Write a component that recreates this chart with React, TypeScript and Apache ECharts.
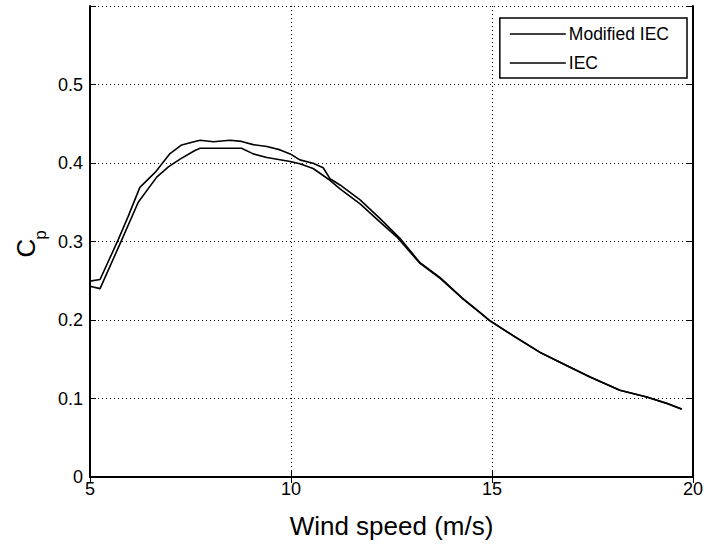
import React, { useEffect, useRef } from "react";
import * as echarts from "echarts";

const seriesNames = ["Modified IEC", "IEC"];

const modifiedX = [5, 5.25, 5.7, 5.95, 6.24, 6.62, 6.99, 7.28, 7.61, 7.74, 8.07, 8.48, 8.77, 9.06, 9.4, 9.73, 9.98, 10.22, 10.55, 10.8, 10.97, 11.22, 11.72, 12.21, 12.71, 13.21, 13.71, 14.25, 14.7, 14.95, 15.53, 16.19, 16.86, 17.44, 18.18, 18.85, 19.35, 19.72];
const modifiedY = [0.2495, 0.2516, 0.302, 0.332, 0.369, 0.388, 0.412, 0.423, 0.4275, 0.429, 0.427, 0.429, 0.4275, 0.4234, 0.421, 0.4167, 0.4116, 0.404, 0.3997, 0.394, 0.38, 0.372, 0.353, 0.3295, 0.304, 0.273, 0.254, 0.2285, 0.2096, 0.199, 0.18, 0.159, 0.142, 0.1275, 0.1106, 0.102, 0.0938, 0.0866];

const iecX = [5, 5.25, 5.79, 6.2, 6.66, 6.95, 7.24, 7.61, 7.74, 8.77, 9.06, 9.4, 9.98, 10.22, 10.55, 10.97, 11.22, 11.72, 12.21, 12.63, 13.21, 13.71, 14.25, 14.7, 14.95, 15.53, 16.19, 16.86, 17.44, 18.18, 18.85, 19.35, 19.72];
const iecY = [0.243, 0.24, 0.302, 0.35, 0.382, 0.395, 0.405, 0.416, 0.4187, 0.4187, 0.4116, 0.407, 0.402, 0.399, 0.393, 0.378, 0.367, 0.348, 0.325, 0.306, 0.272, 0.253, 0.228, 0.2094, 0.1988, 0.1798, 0.1588, 0.1418, 0.1273, 0.1104, 0.1018, 0.0936, 0.0864];

const xTicks = [5, 10, 15, 20];
const yMax = 0.6;

const FONT = "Arial, 'Liberation Sans', Helvetica, sans-serif";

export default function App() {
  const ref = useRef<HTMLDivElement>(null);
  useEffect(() => {
    if (!ref.current) return;
    const chart = echarts.init(ref.current, null, { renderer: "svg" });
    const pairs = (xs: number[], ys: number[]) => xs.map((x, i) => [x, ys[i]]);
    const gridLine = { show: true, lineStyle: { color: "#000", type: [1, 3] as any, width: 1 } };
    const axisLine = { show: true, lineStyle: { color: "#000", width: 2 } };
    const tick = { show: true, inside: true, length: 6, lineStyle: { color: "#000", width: 1 } };
    chart.setOption({
      animation: false,
      backgroundColor: "#fff",
      textStyle: { fontFamily: FONT },
      grid: { left: 90, right: 13, top: 6, bottom: 65, containLabel: false },
      legend: {
        orient: "vertical",
        right: 19,
        top: 18,
        padding: [7, 18, 6, 10],
        itemWidth: 56,
        itemHeight: 14,
        itemGap: 11,
        borderColor: "#000",
        borderWidth: 1.5,
        backgroundColor: "#fff",
        textStyle: { fontSize: 17.5, color: "#000", fontFamily: FONT, padding: [0, 0, 0, -2] },
        data: seriesNames.map((n) => ({ name: n, icon: "path://M0,0 L56,0 L56,1.4 L0,1.4 Z" })),
      },
      xAxis: [
        {
          type: "value",
          min: xTicks[0],
          max: xTicks[xTicks.length - 1],
          interval: 5,
          position: "bottom",
          name: "Wind speed (m/s)",
          nameLocation: "middle",
          nameGap: 36,
          nameTextStyle: { fontSize: 26, color: "#000", fontFamily: FONT },
          axisLine,
          axisTick: tick,
          splitLine: gridLine,
          axisLabel: { color: "#000", fontSize: 18, margin: 3, fontFamily: FONT },
        },
        {
          type: "value",
          min: xTicks[0],
          max: xTicks[xTicks.length - 1],
          interval: 5,
          position: "top",
          axisLine,
          axisTick: tick,
          splitLine: { show: false },
          axisLabel: { show: false },
        },
      ],
      yAxis: [
        {
          type: "value",
          min: 0,
          max: yMax,
          interval: 0.1,
          position: "left",
          axisLine,
          axisTick: tick,
          splitLine: gridLine,
          axisLabel: {
            color: "#000",
            fontSize: 18,
            margin: 7,
            fontFamily: FONT,
            formatter: (v: number) => (v >= yMax - 1e-6 ? "" : String(Math.round(v * 10) / 10)),
          },
        },
        {
          type: "value",
          min: 0,
          max: yMax,
          interval: 0.1,
          position: "right",
          axisLine,
          axisTick: tick,
          splitLine: { show: false },
          axisLabel: { show: false },
        },
      ],
      graphic: [
        {
          type: "group",
          x: 26,
          y: 248,
          rotation: Math.PI / 2,
          children: [
            {
              type: "text",
              x: 0,
              y: 0,
              style: { text: "C", font: `26px ${FONT}`, fill: "#000", textAlign: "center", textVerticalAlign: "middle" },
            },
            {
              type: "text",
              x: 13,
              y: 14,
              style: { text: "p", font: `17px ${FONT}`, fill: "#000", textAlign: "center", textVerticalAlign: "middle" },
            },
          ],
        },
      ],
      series: [
        {
          name: seriesNames[0],
          type: "line",
          data: pairs(modifiedX, modifiedY),
          showSymbol: false,
          symbol: "none",
          lineStyle: { color: "#000", width: 1.6 },
          itemStyle: { color: "#000" },
          z: 3,
        },
        {
          name: seriesNames[1],
          type: "line",
          data: pairs(iecX, iecY),
          showSymbol: false,
          symbol: "none",
          lineStyle: { color: "#000", width: 1.6 },
          itemStyle: { color: "#000" },
          z: 3,
        },
      ],
    });
    return () => chart.dispose();
  }, []);
  return <div ref={ref} style={{ width: 706, height: 544, position: "absolute", left: 0, top: 0 }} />;
}
